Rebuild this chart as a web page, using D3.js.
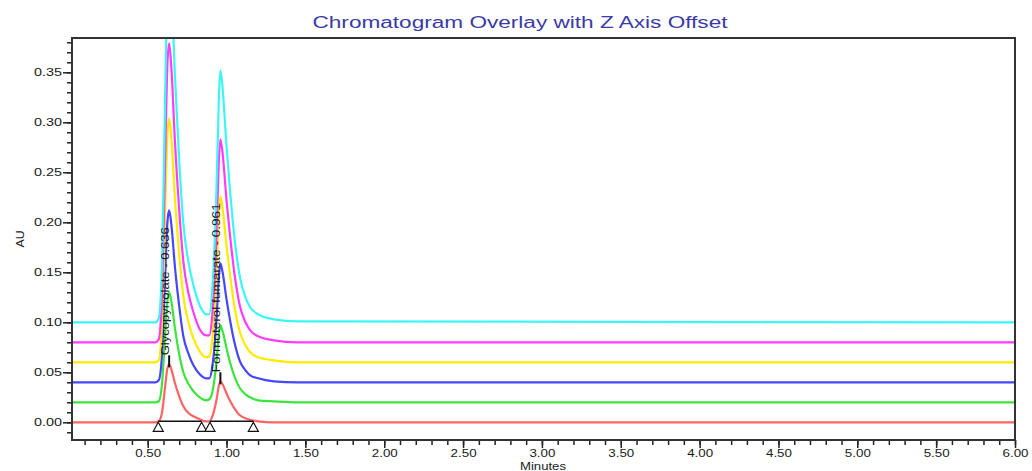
<!DOCTYPE html>
<html>
<head>
<meta charset="utf-8">
<script src="https://cdn.jsdelivr.net/npm/d3@7"></script>
<style>
body { margin: 0; background: #fff; }
svg { display: block; font-family: Arial, "Liberation Sans", sans-serif; }
</style>
</head>
<body>
<div id="chart"></div>
<script>
// retention time grid (minutes)
const times = [0.02, 0.55, 0.57, 0.59, 0.61, 0.625, 0.636, 0.65, 0.673, 0.70, 0.726, 0.76, 0.79, 0.83, 0.87, 0.89,
    0.91, 0.937, 0.952, 0.961, 0.975, 1.00, 1.02, 1.05, 1.085, 1.12, 1.15, 1.20, 1.30, 1.45, 6.00];

// response of each injection above its own baseline (AU)
const trace1 = [0, 0, 0.001, 0.009, 0.035, 0.054, 0.058, 0.053, 0.039, 0.026, 0.016, 0.009, 0.006, 0.003, 0.001, 0.001,
    0.006, 0.023, 0.037, 0.041, 0.038, 0.029, 0.022, 0.014, 0.007, 0.004, 0.0025, 0.001, 0, 0, 0];
const trace2 = [0, 0, 0.001, 0.017, 0.066, 0.102, 0.110, 0.101, 0.074, 0.048, 0.030, 0.018, 0.011, 0.005, 0.002, 0.003,
    0.010, 0.042, 0.069, 0.077, 0.071, 0.054, 0.041, 0.026, 0.014, 0.008, 0.005, 0.002, 0.001, 0, 0];
const trace3 = [0, 0, 0.002, 0.026, 0.103, 0.160, 0.172, 0.158, 0.115, 0.076, 0.046, 0.028, 0.017, 0.008, 0.004, 0.004,
    0.016, 0.065, 0.107, 0.119, 0.110, 0.083, 0.064, 0.040, 0.021, 0.012, 0.007, 0.004, 0.001, 0, 0];
const trace4 = [0, 0, 0.002, 0.037, 0.146, 0.227, 0.244, 0.224, 0.163, 0.107, 0.066, 0.039, 0.024, 0.011, 0.005, 0.006,
    0.023, 0.091, 0.150, 0.166, 0.154, 0.116, 0.090, 0.056, 0.030, 0.017, 0.010, 0.005, 0.002, 0, 0];
const trace5 = [0, 0, 0.003, 0.045, 0.179, 0.278, 0.299, 0.275, 0.200, 0.132, 0.081, 0.048, 0.030, 0.013, 0.007, 0.007,
    0.028, 0.111, 0.184, 0.203, 0.189, 0.142, 0.110, 0.069, 0.036, 0.020, 0.012, 0.006, 0.002, 0, 0];
const trace6 = [0, 0, 0.004, 0.055, 0.220, 0.341, 0.367, 0.338, 0.246, 0.161, 0.099, 0.059, 0.037, 0.017, 0.008, 0.008,
    0.034, 0.138, 0.227, 0.252, 0.234, 0.176, 0.136, 0.085, 0.045, 0.025, 0.015, 0.008, 0.003, 0.001, 0];

// z axis offset of each trace (AU)
const offsets = [0, 0.02, 0.04, 0.06, 0.08, 0.10];

// integrated peaks on the first trace
const peakNames = ["Glycopyrrolate", "Formoterol fumarate"];
const peakTimes = [0.636, 0.961];
const peakApex = [0.058, 0.041];
const peakStart = [0.567, 0.895];
const peakEnd = [0.842, 1.17];

const xMajorTicks = [0.5, 1.0, 1.5, 2.0, 2.5, 3.0, 3.5, 4.0, 4.5, 5.0, 5.5, 6.0];
const yMajorTicks = [0, 0.05, 0.10, 0.15, 0.20, 0.25, 0.30, 0.35];

const traces = [trace1, trace2, trace3, trace4, trace5, trace6];
const colors = ["#ff6464", "#3ce43c", "#4646ff", "#ffea00", "#ff3cff", "#3cf6f6"];

const W = 1032, H = 471;
const box = {left: 72, right: 1015, top: 38, bottom: 440};

const svg = d3.select("#chart").append("svg")
    .attr("width", W)
    .attr("height", H);

const x = d3.scaleLinear().domain([0.02, 6.0]).range([box.left, box.right]);
const y = d3.scaleLinear().domain([-0.0177, 0.3843]).range([box.bottom, box.top]);

function stretch(sel, len) {
    sel.attr("textLength", len).attr("lengthAdjust", "spacingAndGlyphs");
}

// title
svg.append("text")
    .attr("x", 520)
    .attr("y", 28)
    .attr("text-anchor", "middle")
    .attr("font-size", 16)
    .attr("fill", "#3a3aa6")
    .text("Chromatogram Overlay with Z Axis Offset")
    .call(stretch, 415);

// traces
svg.append("clipPath")
    .attr("id", "plot-clip")
    .append("rect")
    .attr("x", box.left)
    .attr("y", box.top)
    .attr("width", box.right - box.left)
    .attr("height", box.bottom - box.top);

const line = d3.line()
    .x(d => x(d[0]))
    .y(d => y(d[1]))
    .curve(d3.curveMonotoneX);

svg.append("g")
    .attr("clip-path", "url(#plot-clip)")
    .selectAll("path")
    .data(traces)
    .join("path")
    .attr("fill", "none")
    .attr("stroke", (d, i) => colors[i])
    .attr("stroke-width", 2.2)
    .attr("d", (d, i) => line(d.map((v, j) => [times[j], v + offsets[i]])));

// peak baselines and markers
const peaks = peakNames.map((name, i) => ({
    name, t: peakTimes[i], apex: peakApex[i], start: peakStart[i], end: peakEnd[i]
}));

const pk = svg.append("g");
pk.selectAll("line.base")
    .data(peaks)
    .join("line")
    .attr("class", "base")
    .attr("x1", d => x(d.start))
    .attr("x2", d => x(d.end))
    .attr("y1", y(0) - 1)
    .attr("y2", y(0) - 1)
    .attr("stroke", "#111")
    .attr("stroke-width", 1.5);

const ends = peaks.flatMap(d => [d.start, d.end]);
pk.selectAll("path.tri")
    .data(ends)
    .join("path")
    .attr("class", "tri")
    .attr("d", d => `M${x(d)},${y(0)} l5,9 l-10,0 z`)
    .attr("fill", "#fff")
    .attr("stroke", "#111")
    .attr("stroke-width", 1.2);

pk.selectAll("line.apex")
    .data(peaks)
    .join("line")
    .attr("class", "apex")
    .attr("x1", d => x(d.t))
    .attr("x2", d => x(d.t))
    .attr("y1", d => y(d.apex) + 3)
    .attr("y2", d => y(d.apex) - 9)
    .attr("stroke", "#111")
    .attr("stroke-width", 2);

const labelLengths = [128, 169];
pk.selectAll("text")
    .data(peaks)
    .join("text")
    .attr("transform", d => `translate(${x(d.t)},${y(d.apex) - 9}) rotate(-90)`)
    .attr("font-size", 11)
    .attr("fill", "#1a1a1a")
    .text(d => `${d.name} - ${d.t.toFixed(3)}`)
    .each(function (d, i) { d3.select(this).call(stretch, labelLengths[i]); });

// x axis
const xMinor = d3.range(1, 61).map(i => i / 10);
svg.append("g")
    .attr("transform", `translate(0,${box.bottom})`)
    .call(d3.axisBottom(x).tickValues(xMinor).tickSize(5).tickFormat(""))
    .call(g => g.select(".domain").remove())
    .call(g => g.selectAll("line").attr("stroke", "#222").attr("stroke-width", 1.5));

svg.append("g")
    .attr("transform", `translate(0,${box.bottom})`)
    .call(d3.axisBottom(x).tickValues(xMajorTicks).tickSize(8).tickPadding(1).tickFormat(d3.format(".2f")))
    .call(g => g.select(".domain").remove())
    .call(g => g.selectAll("line").attr("stroke", "#222").attr("stroke-width", 1.5))
    .call(g => g.selectAll("text").attr("font-size", 11).attr("fill", "#1a1a1a").call(stretch, 26));

// y axis
const yMinor = d3.range(-1, 39).map(i => i / 100);
svg.append("g")
    .attr("transform", `translate(${box.left},0)`)
    .call(d3.axisLeft(y).tickValues(yMinor).tickSize(5).tickFormat(""))
    .call(g => g.select(".domain").remove())
    .call(g => g.selectAll("line").attr("stroke", "#222").attr("stroke-width", 1.5));

svg.append("g")
    .attr("transform", `translate(${box.left},0)`)
    .call(d3.axisLeft(y).tickValues(yMajorTicks).tickSize(9).tickPadding(1).tickFormat(d3.format(".2f")))
    .call(g => g.select(".domain").remove())
    .call(g => g.selectAll("line").attr("stroke", "#222").attr("stroke-width", 1.5))
    .call(g => g.selectAll("text").attr("font-size", 11).attr("fill", "#1a1a1a").call(stretch, 28));

// frame
svg.append("rect")
    .attr("x", box.left)
    .attr("y", box.top)
    .attr("width", box.right - box.left)
    .attr("height", box.bottom - box.top)
    .attr("fill", "none")
    .attr("stroke", "#333")
    .attr("stroke-width", 2);

// axis titles
svg.append("text")
    .attr("transform", "translate(24,239) rotate(-90)")
    .attr("text-anchor", "middle")
    .attr("font-size", 11)
    .attr("fill", "#222")
    .text("AU")
    .call(stretch, 17);

svg.append("text")
    .attr("x", 543)
    .attr("y", 470)
    .attr("text-anchor", "middle")
    .attr("font-size", 10)
    .attr("fill", "#222")
    .text("Minutes")
    .call(stretch, 46);
</script>
</body>
</html>
